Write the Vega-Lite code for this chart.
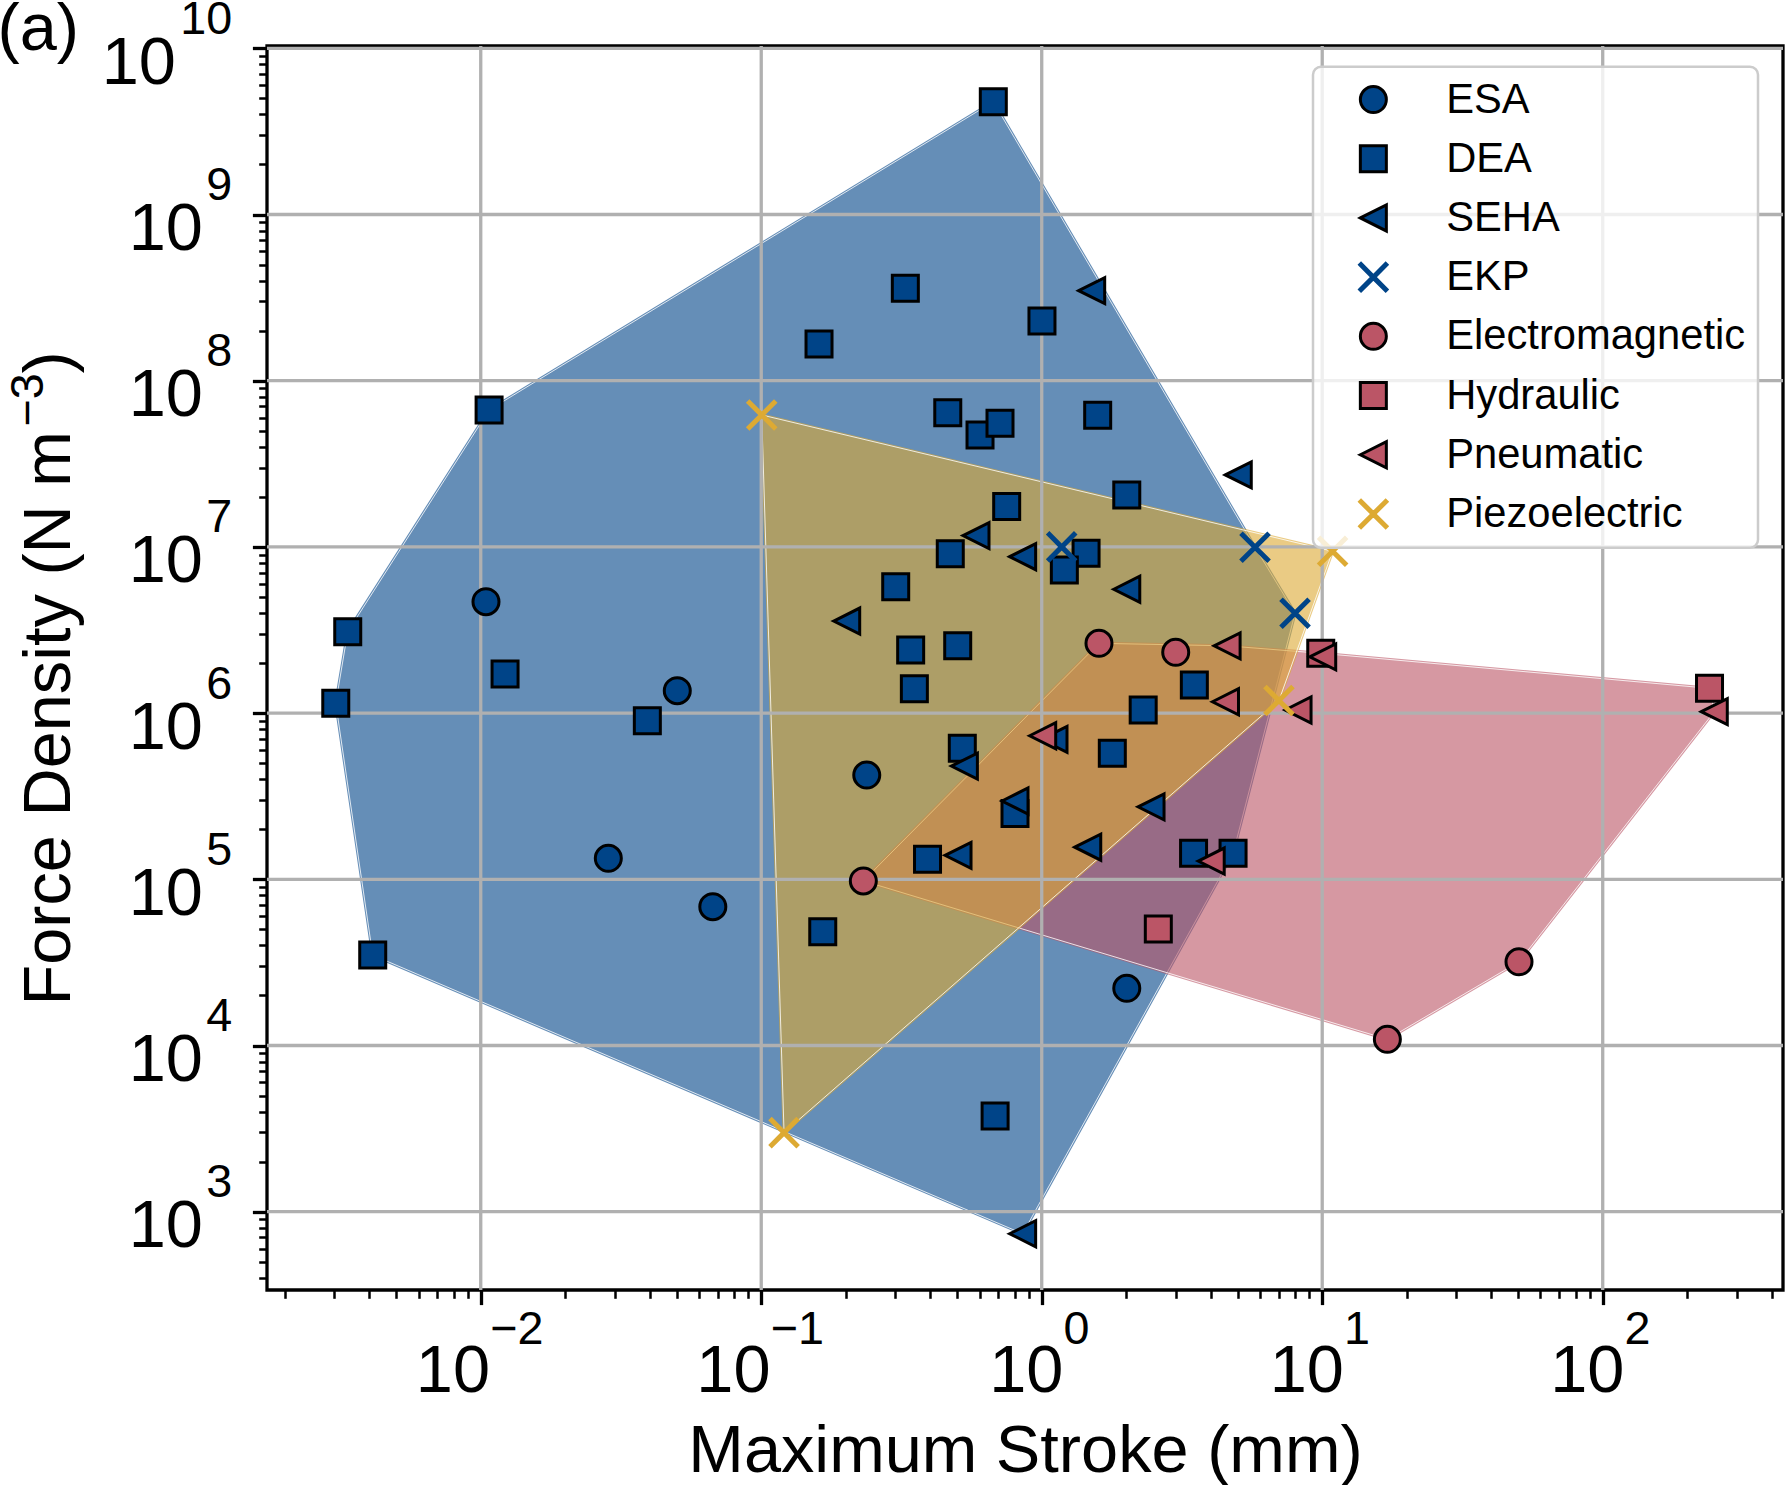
{
  "$schema": "https://vega.github.io/schema/vega-lite/v6.json",
  "autosize": "none",
  "width": 1516,
  "height": 1244,
  "padding": {"left": 267, "top": 46, "right": 3, "bottom": 195},
  "background": "white",
  "config": {
    "font": "Liberation Sans",
    "view": {"stroke": "black", "strokeWidth": 3.3},
    "axis": {
      "labelFont": "Liberation Sans", "titleFont": "Liberation Sans",
      "labelColor": "black", "titleColor": "black", "tickColor": "black",
      "titleFontWeight": "normal", "labelOverlap": false, "labelFlush": false,
      "labelBound": false, "grid": false, "domain": false, "tickCap": "butt"
    },
    "legend": {
      "orient": "none", "legendX": 1046, "legendY": 20.7, "direction": "vertical",
      "padding": 12, "fillColor": "rgba(255,255,255,0.8)", "strokeColor": "#cccccc",
      "strokeWidth": 2.5, "cornerRadius": 8,
      "labelFont": "Liberation Sans", "labelFontSize": 41.7, "labelColor": "black", "labelLimit": 0,
      "symbolSize": 676, "symbolStrokeWidth": 3, "symbolOffset": 27.5, "labelOffset": 52,
      "rowPadding": 16.2
    }
  },
  "datasets": {
    "points": [
      {"type": "ESA", "x": 0.01044, "y": 4680000},
      {"type": "ESA", "x": 0.0502, "y": 1364000},
      {"type": "ESA", "x": 0.0285, "y": 133800},
      {"type": "ESA", "x": 0.0672, "y": 68400},
      {"type": "ESA", "x": 0.2378, "y": 424000},
      {"type": "ESA", "x": 2.01, "y": 22100},
      {"type": "DEA", "x": 0.672, "y": 4770000000},
      {"type": "DEA", "x": 0.3264, "y": 360000000},
      {"type": "DEA", "x": 0.1607, "y": 166000000},
      {"type": "DEA", "x": 1.002, "y": 229000000},
      {"type": "DEA", "x": 0.01071, "y": 66600000},
      {"type": "DEA", "x": 0.4624, "y": 64200000},
      {"type": "DEA", "x": 0.6026, "y": 47100000},
      {"type": "DEA", "x": 0.71, "y": 55400000},
      {"type": "DEA", "x": 1.583, "y": 61900000},
      {"type": "DEA", "x": 0.75, "y": 17500000},
      {"type": "DEA", "x": 2.01, "y": 20500000},
      {"type": "DEA", "x": 0.472, "y": 9100000},
      {"type": "DEA", "x": 1.439, "y": 9150000},
      {"type": "DEA", "x": 1.204, "y": 7260000},
      {"type": "DEA", "x": 0.3016, "y": 5760000},
      {"type": "DEA", "x": 0.003356, "y": 3090000},
      {"type": "DEA", "x": 0.01221, "y": 1720000},
      {"type": "DEA", "x": 0.341, "y": 2400000},
      {"type": "DEA", "x": 0.5017, "y": 2540000},
      {"type": "DEA", "x": 0.3515, "y": 1400000},
      {"type": "DEA", "x": 0.003042, "y": 1146000},
      {"type": "DEA", "x": 0.03926, "y": 900000},
      {"type": "DEA", "x": 2.3, "y": 1045000},
      {"type": "DEA", "x": 3.5, "y": 1476000},
      {"type": "DEA", "x": 0.521, "y": 614000},
      {"type": "DEA", "x": 1.785, "y": 573000},
      {"type": "DEA", "x": 0.803, "y": 249000},
      {"type": "DEA", "x": 0.3916, "y": 132000},
      {"type": "DEA", "x": 3.478, "y": 143400},
      {"type": "DEA", "x": 4.81, "y": 143400},
      {"type": "DEA", "x": 0.1657, "y": 48400},
      {"type": "DEA", "x": 0.00412, "y": 35000},
      {"type": "DEA", "x": 0.682, "y": 3770},
      {"type": "SEHA", "x": 1.507, "y": 348000000},
      {"type": "SEHA", "x": 5.02, "y": 27100000},
      {"type": "SEHA", "x": 0.583, "y": 11700000},
      {"type": "SEHA", "x": 0.855, "y": 8730000},
      {"type": "SEHA", "x": 2.01, "y": 5560000},
      {"type": "SEHA", "x": 0.2017, "y": 3580000},
      {"type": "SEHA", "x": 1.106, "y": 695000},
      {"type": "SEHA", "x": 0.53, "y": 480000},
      {"type": "SEHA", "x": 0.803, "y": 296000},
      {"type": "SEHA", "x": 2.453, "y": 273000},
      {"type": "SEHA", "x": 1.459, "y": 156000},
      {"type": "SEHA", "x": 0.503, "y": 139400},
      {"type": "SEHA", "x": 0.855, "y": 737},
      {"type": "EKP", "x": 1.178, "y": 10000000},
      {"type": "EKP", "x": 5.76, "y": 9950000},
      {"type": "EKP", "x": 8.0, "y": 3990000},
      {"type": "Electromagnetic", "x": 1.6, "y": 2630000},
      {"type": "Electromagnetic", "x": 3.004, "y": 2320000},
      {"type": "Electromagnetic", "x": 0.2312, "y": 97800},
      {"type": "Electromagnetic", "x": 17.07, "y": 10900},
      {"type": "Electromagnetic", "x": 50.3, "y": 31900},
      {"type": "Hydraulic", "x": 9.88, "y": 2290000},
      {"type": "Hydraulic", "x": 240.3, "y": 1410000},
      {"type": "Hydraulic", "x": 2.604, "y": 50200},
      {"type": "Pneumatic", "x": 4.58, "y": 2540000},
      {"type": "Pneumatic", "x": 10.04, "y": 2180000},
      {"type": "Pneumatic", "x": 4.52, "y": 1170000},
      {"type": "Pneumatic", "x": 8.2, "y": 1044000},
      {"type": "Pneumatic", "x": 1.008, "y": 731000},
      {"type": "Pneumatic", "x": 4.02, "y": 128800},
      {"type": "Pneumatic", "x": 249.9, "y": 1020000},
      {"type": "Piezoelectric", "x": 0.1004, "y": 62200000},
      {"type": "Piezoelectric", "x": 10.89, "y": 9410000},
      {"type": "Piezoelectric", "x": 7.01, "y": 1190000},
      {"type": "Piezoelectric", "x": 0.1206, "y": 2990}
    ],
    "hulls": [
      {"hull": "electrostatic", "i": 0, "x": 0.672, "y": 4770000000},
      {"hull": "electrostatic", "i": 1, "x": 5.76, "y": 9950000},
      {"hull": "electrostatic", "i": 2, "x": 8.0, "y": 3990000},
      {"hull": "electrostatic", "i": 3, "x": 4.81, "y": 143400},
      {"hull": "electrostatic", "i": 4, "x": 0.855, "y": 737},
      {"hull": "electrostatic", "i": 5, "x": 0.00412, "y": 35000},
      {"hull": "electrostatic", "i": 6, "x": 0.003042, "y": 1146000},
      {"hull": "electrostatic", "i": 7, "x": 0.003356, "y": 3090000},
      {"hull": "electrostatic", "i": 8, "x": 0.01071, "y": 66600000},
      {"hull": "fluidic", "i": 0, "x": 1.6, "y": 2630000},
      {"hull": "fluidic", "i": 1, "x": 4.58, "y": 2540000},
      {"hull": "fluidic", "i": 2, "x": 9.88, "y": 2290000},
      {"hull": "fluidic", "i": 3, "x": 240.3, "y": 1410000},
      {"hull": "fluidic", "i": 4, "x": 249.9, "y": 1020000},
      {"hull": "fluidic", "i": 5, "x": 50.3, "y": 31900},
      {"hull": "fluidic", "i": 6, "x": 17.07, "y": 10900},
      {"hull": "fluidic", "i": 7, "x": 0.2312, "y": 97800},
      {"hull": "piezo", "i": 0, "x": 0.1004, "y": 62200000},
      {"hull": "piezo", "i": 1, "x": 10.89, "y": 9410000},
      {"hull": "piezo", "i": 2, "x": 7.01, "y": 1190000},
      {"hull": "piezo", "i": 3, "x": 0.1206, "y": 2990}
    ],
    "xgrid": [{"x": 0.01}, {"x": 0.1}, {"x": 1}, {"x": 10}, {"x": 100}],
    "ygrid": [{"y": 1000}, {"y": 10000}, {"y": 100000}, {"y": 1000000}, {"y": 10000000}, {"y": 100000000}, {"y": 1000000000}, {"y": 10000000000}]
  },
  "resolve": {"axis": {"x": "independent", "y": "independent"}},
  "layer": [
    {
      "data": {"name": "hulls"},
      "transform": [{"filter": "datum.hull === 'electrostatic'"}],
      "mark": {"type": "line", "interpolate": "linear-closed", "fill": "#004488", "stroke": "#004488", "strokeWidth": 3, "opacity": 0.6, "strokeJoin": "round"},
      "encoding": {
        "x": {"field": "x", "type": "quantitative", "scale": {"type": "log", "domain": [0.0017298, 439.27], "nice": false},
          "axis": {"orient": "bottom", "values": [0.002,0.003,0.004,0.005,0.006,0.007,0.008,0.009,0.02,0.03,0.04,0.05,0.06,0.07,0.08,0.09,0.2,0.3,0.4,0.5,0.6,0.7,0.8,0.9,2,3,4,5,6,7,8,9,20,30,40,50,60,70,80,90,200,300,400],
            "tickSize": 8.3, "tickWidth": 2.5, "labels": false,
            "title": "Maximum Stroke (mm)", "titleFontSize": 66.7, "titleX": 758, "titleY": 181, "titleAlign": "center", "titleBaseline": "alphabetic", "titleAngle": 0}},
        "y": {"field": "y", "type": "quantitative", "scale": {"type": "log", "domain": [338.0, 10324000000], "nice": false},
          "axis": {"orient": "left", "values": [400,500,600,700,800,900,2000,3000,4000,5000,6000,7000,8000,9000,20000,30000,40000,50000,60000,70000,80000,90000,200000,300000,400000,500000,600000,700000,800000,900000,2000000,3000000,4000000,5000000,6000000,7000000,8000000,9000000,20000000,30000000,40000000,50000000,60000000,70000000,80000000,90000000,200000000,300000000,400000000,500000000,600000000,700000000,800000000,900000000,2000000000,3000000000,4000000000,5000000000,6000000000,7000000000,8000000000,9000000000],
            "tickSize": 8.3, "tickWidth": 2.5, "labels": false,
            "title": "Force Density (N m", "titleFontSize": 66.7, "titleAngle": -90, "titleAlign": "left", "titleBaseline": "alphabetic", "titleX": -198, "titleY": 959}},
        "order": {"field": "i", "type": "quantitative"}
      }
    },
    {
      "data": {"name": "hulls"},
      "transform": [{"filter": "datum.hull === 'electrostatic'"}],
      "mark": {"type": "line", "interpolate": "linear-closed", "stroke": "white", "strokeWidth": 1, "opacity": 0.8},
      "encoding": {
        "x": {"field": "x", "type": "quantitative", "scale": {"type": "log", "domain": [0.0017298, 439.27], "nice": false}, "axis": null},
        "y": {"field": "y", "type": "quantitative", "scale": {"type": "log", "domain": [338.0, 10324000000], "nice": false}, "axis": null},
        "order": {"field": "i", "type": "quantitative"}
      }
    },
    {
      "data": {"name": "hulls"},
      "transform": [{"filter": "datum.hull === 'fluidic'"}],
      "mark": {"type": "line", "interpolate": "linear-closed", "fill": "#BB5566", "stroke": "#BB5566", "strokeWidth": 3, "opacity": 0.6, "strokeJoin": "round"},
      "encoding": {
        "x": {"field": "x", "type": "quantitative", "scale": {"type": "log", "domain": [0.0017298, 439.27], "nice": false},
          "axis": {"orient": "bottom", "values": [0.01, 0.1, 1, 10, 100], "tickSize": 14.6, "tickWidth": 3.3,
            "labelExpr": "'10'", "labelFontSize": 66.7, "labelAlign": "right", "labelBaseline": "alphabetic", "labelPadding": 86.4,
            "labelOffset": {"condition": {"test": "datum.value < 0.5", "value": 8.8}, "value": 21.1},
            "title": "(a)", "titleFontSize": 66.7, "titleX": -270, "titleY": -1240.5, "titleAlign": "left", "titleBaseline": "alphabetic", "titleAngle": 0}},
        "y": {"field": "y", "type": "quantitative", "scale": {"type": "log", "domain": [338.0, 10324000000], "nice": false},
          "axis": {"orient": "left", "values": [1000, 10000, 100000, 1000000, 10000000, 100000000, 1000000000, 10000000000], "tickSize": 14.6, "tickWidth": 3.3,
            "labelExpr": "'10'", "labelFontSize": 66.7, "labelAlign": "right", "labelBaseline": "alphabetic", "labelOffset": 35,
            "labelPadding": {"condition": {"test": "datum.value > 5000000000", "value": 77}, "value": 50},
            "title": ")", "titleFontSize": 66.7, "titleAngle": -90, "titleAlign": "left", "titleBaseline": "alphabetic", "titleX": -198, "titleY": 327}},
        "order": {"field": "i", "type": "quantitative"}
      }
    },
    {
      "data": {"name": "hulls"},
      "transform": [{"filter": "datum.hull === 'fluidic'"}],
      "mark": {"type": "line", "interpolate": "linear-closed", "stroke": "white", "strokeWidth": 1, "opacity": 0.8},
      "encoding": {
        "x": {"field": "x", "type": "quantitative", "scale": {"type": "log", "domain": [0.0017298, 439.27], "nice": false}, "axis": null},
        "y": {"field": "y", "type": "quantitative", "scale": {"type": "log", "domain": [338.0, 10324000000], "nice": false}, "axis": null},
        "order": {"field": "i", "type": "quantitative"}
      }
    },
    {
      "data": {"name": "hulls"},
      "transform": [{"filter": "datum.hull === 'piezo'"}],
      "mark": {"type": "line", "interpolate": "linear-closed", "fill": "#DDAA33", "stroke": "#DDAA33", "strokeWidth": 3, "opacity": 0.6, "strokeJoin": "round"},
      "encoding": {
        "x": {"field": "x", "type": "quantitative", "scale": {"type": "log", "domain": [0.0017298, 439.27], "nice": false},
          "axis": {"orient": "bottom", "values": [0.01, 0.1, 1, 10, 100], "ticks": false, "tickSize": 0,
            "labelExpr": "(round(log(datum.value)/LN10) < 0 ? '−' : '') + abs(round(log(datum.value)/LN10))",
            "labelFontSize": 46.7, "labelAlign": "left", "labelBaseline": "alphabetic", "labelPadding": 53.3,
            "labelOffset": {"condition": {"test": "datum.value < 0.5", "value": 9}, "value": 21.3},
            "title": null}},
        "y": {"field": "y", "type": "quantitative", "scale": {"type": "log", "domain": [338.0, 10324000000], "nice": false},
          "axis": {"orient": "left", "values": [1000, 10000, 100000, 1000000, 10000000, 100000000, 1000000000, 10000000000], "ticks": false, "tickSize": 0,
            "labelExpr": "(round(log(datum.value)/LN10) < 0 ? '−' : '') + abs(round(log(datum.value)/LN10))",
            "labelFontSize": 46.7, "labelAlign": "right", "labelBaseline": "alphabetic", "labelPadding": 35.3, "labelOffset": -15,
            "title": "−3", "titleFontSize": 46.7, "titleAngle": -90, "titleAlign": "left", "titleBaseline": "alphabetic", "titleX": -225, "titleY": 380}},
        "order": {"field": "i", "type": "quantitative"}
      }
    },
    {
      "data": {"name": "hulls"},
      "transform": [{"filter": "datum.hull === 'piezo'"}],
      "mark": {"type": "line", "interpolate": "linear-closed", "stroke": "white", "strokeWidth": 1, "opacity": 0.8},
      "encoding": {
        "x": {"field": "x", "type": "quantitative", "scale": {"type": "log", "domain": [0.0017298, 439.27], "nice": false}, "axis": null},
        "y": {"field": "y", "type": "quantitative", "scale": {"type": "log", "domain": [338.0, 10324000000], "nice": false}, "axis": null},
        "order": {"field": "i", "type": "quantitative"}
      }
    },
    {
      "data": {"name": "xgrid"},
      "mark": {"type": "rule", "color": "#b0b0b0", "strokeWidth": 3.3},
      "encoding": {
        "x": {"field": "x", "type": "quantitative", "scale": {"type": "log", "domain": [0.0017298, 439.27], "nice": false}, "axis": null}
      }
    },
    {
      "data": {"name": "ygrid"},
      "mark": {"type": "rule", "color": "#b0b0b0", "strokeWidth": 3.3},
      "encoding": {
        "y": {"field": "y", "type": "quantitative", "scale": {"type": "log", "domain": [338.0, 10324000000], "nice": false}, "axis": null}
      }
    },
    {
      "data": {"name": "points"},
      "mark": {"type": "point", "filled": true, "opacity": 1, "strokeWidth": 3, "size": 676, "strokeJoin": "miter"},
      "encoding": {
        "x": {"field": "x", "type": "quantitative", "scale": {"type": "log", "domain": [0.0017298, 439.27], "nice": false}, "axis": null},
        "y": {"field": "y", "type": "quantitative", "scale": {"type": "log", "domain": [338.0, 10324000000], "nice": false}, "axis": null},
        "shape": {"field": "type", "type": "nominal",
          "scale": {"domain": ["ESA","DEA","SEHA","EKP","Electromagnetic","Hydraulic","Pneumatic","Piezoelectric"],
            "range": ["circle","square","M-1,0L1,-1L1,1Z","M0.946,1.054L1.054,0.946L0.109,0L1.054,-0.946L0.946,-1.054L0,-0.109L-0.946,-1.054L-1.054,-0.946L-0.109,0L-1.054,0.946L-0.946,1.054L0,0.109Z","circle","square","M-1,0L1,-1L1,1Z","M0.946,1.054L1.054,0.946L0.109,0L1.054,-0.946L0.946,-1.054L0,-0.109L-0.946,-1.054L-1.054,-0.946L-0.109,0L-1.054,0.946L-0.946,1.054L0,0.109Z"]},
          "legend": {"title": null}},
        "fill": {"field": "type", "type": "nominal",
          "scale": {"domain": ["ESA","DEA","SEHA","EKP","Electromagnetic","Hydraulic","Pneumatic","Piezoelectric"],
            "range": ["#004488","#004488","#004488","#004488","#BB5566","#BB5566","#BB5566","#DDAA33"]},
          "legend": {"title": null}},
        "stroke": {"field": "type", "type": "nominal",
          "scale": {"domain": ["ESA","DEA","SEHA","EKP","Electromagnetic","Hydraulic","Pneumatic","Piezoelectric"],
            "range": ["black","black","black","#004488","black","black","black","#DDAA33"]},
          "legend": {"title": null}}
      }
    }
  ]
}
